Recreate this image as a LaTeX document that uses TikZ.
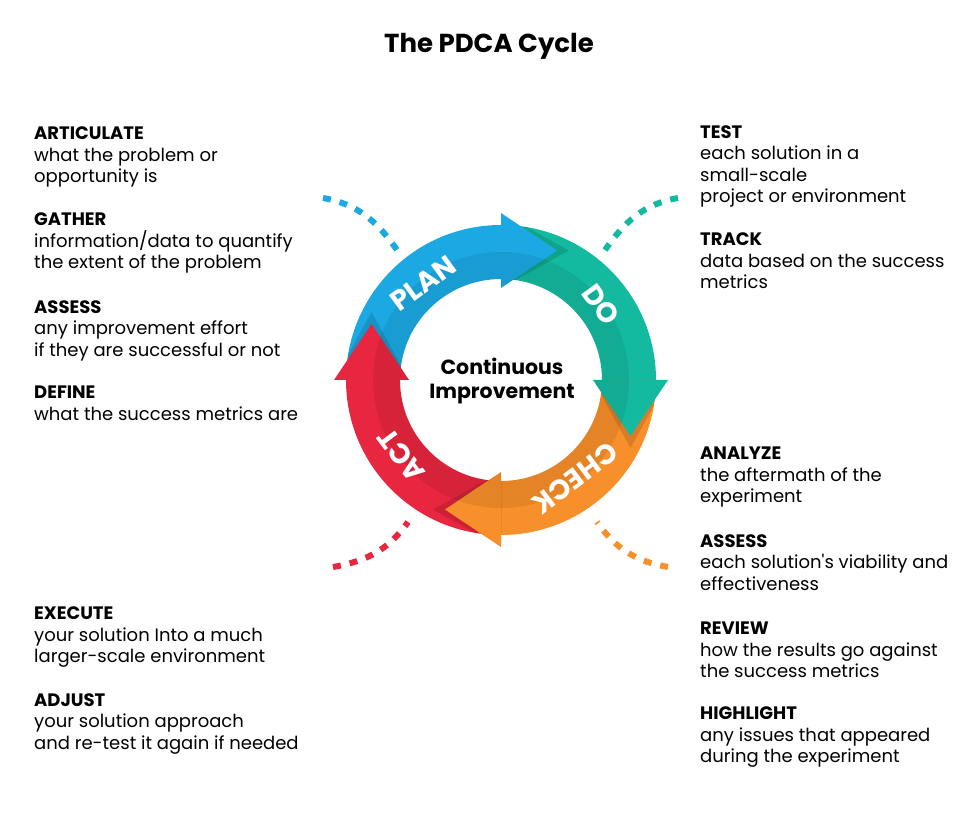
\documentclass[tikz,border=0pt]{standalone}
\usepackage{fontspec}
\setmainfont{Poppins}
\definecolor{planblue}{HTML}{1BA8E3}
\definecolor{doteal}{HTML}{13BA9F}
\definecolor{checkorange}{HTML}{F78F2B}
\definecolor{actred}{HTML}{E8263F}

\begin{document}
\begin{tikzpicture}[x=1pt, y=1pt, every node/.style={inner sep=0pt},
    textblock/.style={anchor=north west, align=left, font=\fontsize{18}{21.5}\selectfont},
    ringlabel/.style={text=white, font=\bfseries\fontsize{28}{28}\selectfont},
    dashcurve/.style={line width=6pt, dash pattern=on 8pt off 9pt}]

    \useasboundingbox (0,0) rectangle (980,822);

    % title
    \node[anchor=base, font=\bfseries\fontsize{26}{30}\selectfont] (title) at (489,769) {The PDCA Cycle};

    % dashed curves
    \draw[dashcurve, planblue] (323,624) to[out=-10, in=125] (397,572);
    \draw[dashcurve, doteal] (678,624) to[out=190, in=55] (605,572);
    \draw[dashcurve, actred] (333,255) to[out=10, in=235] (408,300);
    \draw[dashcurve, checkorange] (668,255) to[out=170, in=-55] (597,300);

\begin{scope}[shift={(501,442)}]

    % bodies of the four arrows
    \fill[planblue] (180:155) arc[start angle=180, end angle=90, radius=155] -- (90:101) arc[start angle=90, end angle=180, radius=101] -- cycle;
    \fill[doteal] (90:155) arc[start angle=90, end angle=0, radius=155] -- (0:101) arc[start angle=0, end angle=90, radius=101] -- cycle;
    \fill[checkorange] (0:155) arc[start angle=0, end angle=-90, radius=155] -- (-90:101) arc[start angle=-90, end angle=0, radius=101] -- cycle;
    \fill[actred] (-90:155) arc[start angle=-90, end angle=-180, radius=155] -- (-180:101) arc[start angle=-180, end angle=-90, radius=101] -- cycle;

    % inner half a bit darker
    \fill[black, opacity=.07, even odd rule] (0,0) circle (128) (0,0) circle (101);

    % shadows of the heads
    \begin{scope}[even odd rule]
        \clip (0,0) circle (155) (0,0) circle (101);
        \fill[black, opacity=.12] (90:167) -- ([shift={(0:68)}]90:129.5) -- (90:92) -- cycle;
        \fill[black, opacity=.12] (0:167) -- ([shift={(-90:68)}]0:129.5) -- (0:92) -- cycle;
        \fill[black, opacity=.12] (-90:167) -- ([shift={(180:68)}]-90:129.5) -- (-90:92) -- cycle;
        \fill[black, opacity=.12] (180:167) -- ([shift={(90:68)}]180:129.5) -- (180:92) -- cycle;
    \end{scope}

    % heads
    \fill[planblue] (90:167) -- ([shift={(0:56)}]90:129.5) -- (90:92) -- cycle;
    \fill[doteal] (0:167) -- ([shift={(-90:56)}]0:129.5) -- (0:92) -- cycle;
    \fill[checkorange] (-90:167) -- ([shift={(180:56)}]-90:129.5) -- (-90:92) -- cycle;
    \fill[actred] (180:167) -- ([shift={(90:56)}]180:129.5) -- (180:92) -- cycle;

    % inner half of the heads
    \begin{scope}
        \clip (0,0) circle (128);
        \fill[black, opacity=.07] (90:167) -- ([shift={(0:56)}]90:129.5) -- (90:92) -- cycle;
        \fill[black, opacity=.07] (0:167) -- ([shift={(-90:56)}]0:129.5) -- (0:92) -- cycle;
        \fill[black, opacity=.07] (-90:167) -- ([shift={(180:56)}]-90:129.5) -- (-90:92) -- cycle;
        \fill[black, opacity=.07] (180:167) -- ([shift={(90:56)}]180:129.5) -- (180:92) -- cycle;
    \end{scope}

    % labels on the ring
    \node[ringlabel, rotate=36] (plan) at (129:124) {PLAN};
    \node[ringlabel, rotate=-54] (do) at (37:125) {DO};
    \node[ringlabel, rotate=-143] (check) at (-53:123) {CHECK};
    \node[ringlabel, rotate=127] (act) at (217:125) {ACT};

    % centre
    \node[align=center, font=\bfseries\fontsize{20.5}{24}\selectfont] (centre) at (1,-1) {Continuous\\Improvement};

\end{scope}

    % plan
    \node[textblock] (articulate) at (34,695) {\textbf{ARTICULATE}\\what the problem or\\opportunity is};
    \node[textblock] (gather) at (34,609) {\textbf{GATHER}\\information/data to quantify\\the extent of the problem};
    \node[textblock] (assessplan) at (34,522) {\textbf{ASSESS}\\any improvement effort\\if they are successful or not};
    \node[textblock] (define) at (34,436) {\textbf{DEFINE}\\what the success metrics are};

    % do
    \node[textblock] (test) at (700,697) {\textbf{TEST}\\each solution in a\\small-scale\\project or environment};
    \node[textblock] (track) at (700,589) {\textbf{TRACK}\\data based on the success\\metrics};

    % check
    \node[textblock] (analyze) at (700,375) {\textbf{ANALYZE}\\the aftermath of the\\experiment};
    \node[textblock] (assesscheck) at (700,288) {\textbf{ASSESS}\\each solution\textquotesingle s viability and\\effectiveness};
    \node[textblock] (review) at (700,200) {\textbf{REVIEW}\\how the results go against\\the success metrics};
    \node[textblock] (highlight) at (700,115) {\textbf{HIGHLIGHT}\\any issues that appeared\\during the experiment};

    % act
    \node[textblock] (execute) at (34,215) {\textbf{EXECUTE}\\your solution Into a much\\larger-scale environment};
    \node[textblock] (adjust) at (34,129) {\textbf{ADJUST}\\your solution approach\\and re-test it again if needed};

\end{tikzpicture}
\end{document}
